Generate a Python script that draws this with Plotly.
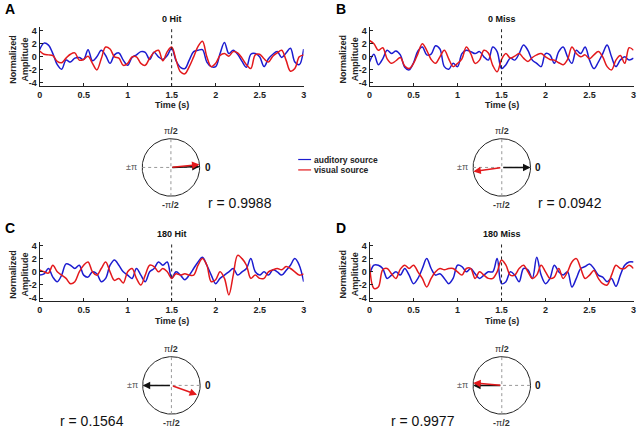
import numpy as np
import plotly.graph_objects as go

W, H = 640, 429

# ---------------- data ----------------
time_s = [round(i * 0.05, 2) for i in range(61)]

panel_titles = ["0 Hit", "0 Miss", "180 Hit", "180 Miss"]
panel_letters = ["A", "B", "C", "D"]
r_values = ["0.9988", "0.0942", "0.1564", "0.9977"]

auditory_A = [1.1, 2.1, 1.8, 0.5, -1.2, -1.9, -0.5, -0.8, -0.2, -0.1, -0.4, 1.1, -0.6, 0.0, 1.0, 0.2,
              -1.0, 0.3, 0.6, -0.5, -1.3, -0.1, 0.3, 0.8, 0.7, -0.4, 0.7, 0.0, -0.4, 0.2, 1.3, -0.6,
              -1.6, -1.8, -0.5, 0.8, 1.0, 1.1, -0.8, -1.5, -1.5, 0.5, 2.2, 0.5, 1.0, 0.4, -0.7, -1.6,
              0.4, 0.5, 0.0, -1.5, -0.3, 0.4, 0.8, -0.1, 0.6, 1.3, -0.8, -1.2, 1.2]
visual_A = [0.9, 0.4, 0.3, 0.2, -0.7, -0.9, -0.2, 0.4, 0.6, -0.5, -0.4, 0.1, -1.0, -2.0, -0.3, 1.5,
            1.2, 0.0, -0.2, -1.3, -1.0, 0.0, 0.0, -1.0, -1.3, -0.2, 0.7, 1.0, -0.6, 0.8, 1.5, -0.5,
            -2.3, -2.6, -1.5, 0.0, 1.6, 2.4, 0.0, -1.5, -1.0, 0.2, 0.5, 0.1, 0.8, 0.6, -0.2, -1.2,
            -1.8, 0.3, 0.4, -0.3, -0.8, 0.1, 0.6, 1.0, -0.5, -2.2, -1.8, 0.0, 0.3]

auditory_B = [-0.8, 0.4, -1.2, -0.3, 1.0, 0.5, 0.9, 0.3, -1.6, -2.0, -0.9, 0.9, 1.5, 0.3, 0.4, 1.7,
              1.2, -1.5, -1.9, -1.0, -1.5, 0.5, 1.0, 0.8, 0.5, 0.8, 0.0, -0.5, 1.5, 0.8, -1.8, -1.2,
              -0.2, -0.5, 0.5, 1.8, 1.0, -0.5, -1.0, -1.5, 0.5, 0.3, -1.0, 0.8, 1.5, 0.0, -1.0, 1.0,
              0.5, 1.5, -0.5, -1.8, -0.8, 0.5, 1.8, 0.0, -1.5, -0.5, 0.0, -0.5, -0.2]
visual_B = [2.5, 2.0, 1.0, 1.4, -0.3, -1.0, -0.6, -0.1, -1.4, -1.8, -1.0, 0.5, 2.0, 1.0, -0.4, -1.0,
            0.0, 1.0, -0.3, -1.5, -1.0, -0.3, 1.5, 0.5, -1.0, -0.5, 1.0, 0.6, -1.3, -2.3, -0.4, 0.5,
            -0.2, 0.1, 0.5, -0.2, -0.7, -0.1, 0.3, 0.5, 0.0, -0.4, -0.5, -0.9, -1.2, -0.4, 1.5, 0.5,
            0.0, 0.3, -0.3, 0.3, 0.8, 0.0, -1.5, -2.0, -0.5, 0.2, -1.0, 1.4, 1.0]

auditory_C = [-0.5, -0.3, 0.5, -0.8, -1.5, -0.5, 1.2, 1.0, 0.5, 1.0, -0.5, -0.8, 0.0, -0.3, -1.5, -1.0,
              1.0, 1.8, 1.0, 0.0, -0.5, -1.0, 0.5, -0.5, -1.5, 0.0, 0.5, 1.5, 1.0, 1.5, -1.0, 0.0,
              -0.5, -1.2, -0.5, 0.5, 1.5, 2.2, 1.0, -0.5, -1.8, -1.0, -0.5, 0.0, 0.5, -0.5, 0.0, 0.5,
              2.0, 0.0, -0.5, 0.0, -0.5, 0.3, 0.0, -0.5, 0.2, 1.0, 2.0, 1.0, -1.5]
visual_C = [0.3, 0.0, -0.2, 1.0, 0.0, -0.5, -1.0, -1.8, -1.5, 0.0, 1.0, 1.5, 0.0, -0.5, 0.5, 1.5,
            0.0, -1.3, -1.0, -1.7, 0.0, 0.5, -1.0, -2.0, -0.5, 1.0, 0.8, 0.0, 0.5, 0.0, -1.0, -0.3,
            -0.5, -0.3, -0.5, -0.5, 1.0, 2.0, 1.0, -1.5, -1.2, 0.0, -1.0, -3.5, -0.5, 2.5, 2.0, 1.0,
            -1.0, -0.5, -1.0, -1.0, 0.0, 0.3, 0.5, 0.3, 0.8, 0.5, 0.0, -0.5, -0.3]

auditory_D = [-0.5, 1.0, 1.0, 0.5, -1.0, -0.5, 0.0, -0.5, 0.5, -0.5, -1.8, -1.0, 0.5, 2.0, 0.5, -0.5,
              -0.3, -1.0, -1.8, -1.0, 1.0, 0.8, 0.0, 0.5, -0.3, -1.0, -0.5, 0.0, 0.0, 2.0, -1.8, -1.5,
              0.0, -0.5, -1.5, 0.5, 0.3, -1.0, 2.2, -0.5, -1.8, -1.0, 1.0, 0.0, -0.5, 0.0, -2.3, -1.0,
              0.5, 0.8, 1.2, 0.5, -0.5, -0.8, -1.5, -1.0, -2.2, -0.5, 1.0, 1.5, 1.5]
visual_D = [1.2, -2.5, -2.3, 0.3, 0.5, -0.3, -1.0, 0.4, 1.0, 0.5, 1.0, 0.0, -1.0, -2.3, -1.0, 0.0,
            0.5, 0.3, 0.5, 0.5, 0.0, -0.5, 0.5, 0.5, -1.0, 0.0, -0.5, -1.0, -1.0, 0.0, 1.8, 1.0,
            -0.5, -0.5, 0.5, 1.0, 0.0, -1.0, -0.5, 1.0, 0.0, -1.0, -0.8, 0.5, -1.0, 0.0, 1.5, 2.0,
            0.5, -1.0, -0.5, 0.2, -1.0, -1.8, -2.0, -0.5, 1.0, 0.5, 0.5, 1.0, 0.5]

auditory_series = [auditory_A, auditory_B, auditory_C, auditory_D]
visual_series = [visual_A, visual_B, visual_C, visual_D]

# phase angles (degrees) of mean vectors
auditory_phase = [2, 0, 180, 180]
visual_phase = [6, 188, -20, 175]
visual_length = [1.0, 1.0, 0.95, 1.0]

x_ticks = [0, 0.5, 1, 1.5, 2, 2.5, 3]
x_ticklabels = ["0", "0.5", "1", "1.5", "2", "2.5", "3"]
y_ticks = [-4, -2, 0, 2, 4]
y_ticklabels = ["-4", "-2", "0", "2", "4"]

BLUE = "#1c1cd0"
RED = "#e3191c"
FONT = "Liberation Sans"


def px(x):
    return x / W


def py(y):
    return 1 - y / H


fig = go.Figure()

# panel geometry (pixels)
panels = [
    dict(x0=37, x1=303.5, top=25.7, bot=85, title_y=17, time_y=104, letter=(7, 7),
         cx=169.5, cy=167, rx=239, ry=203),
    dict(x0=370, x1=636.5, top=25.7, bot=85, title_y=17, time_y=104, letter=(341, 7),
         cx=503.5, cy=167, rx=572, ry=203),
    dict(x0=37, x1=303.5, top=242.4, bot=302.3, title_y=234, time_y=321.5, letter=(7, 228),
         cx=170, cy=387, rx=90, ry=423),
    dict(x0=370, x1=636.5, top=242.4, bot=302.3, title_y=234, time_y=321.5, letter=(341, 228),
         cx=503.5, cy=387, rx=424, ry=423),
]

R = 29.0   # circle radius in px
HB = 42.0  # half box of the polar axes in px

annotations = []
shapes = []
axis_layout = {}

tick_font = dict(family=FONT, size=9, color="#222", weight="bold")

for i, p in enumerate(panels):
    k = i + 1
    xa = "x" if k == 1 else f"x{k}"
    ya = "y" if k == 1 else f"y{k}"
    xk = "xaxis" if k == 1 else f"xaxis{k}"
    yk = "yaxis" if k == 1 else f"yaxis{k}"

    fig.add_trace(go.Scatter(x=time_s, y=auditory_series[i], mode="lines", line=dict(color=BLUE, width=1.5, shape="spline", smoothing=1.0),
                             xaxis=xa, yaxis=ya, showlegend=False, name="auditory source"))
    fig.add_trace(go.Scatter(x=time_s, y=visual_series[i], mode="lines", line=dict(color=RED, width=1.5, shape="spline", smoothing=1.0),
                             xaxis=xa, yaxis=ya, showlegend=False, name="visual source"))

    axis_layout[xk] = dict(domain=[px(p["x0"]), px(p["x1"])], range=[0, 3], anchor=ya,
                           tickvals=x_ticks, ticktext=x_ticklabels, showline=True, linecolor="#222",
                           linewidth=1, ticks="inside", ticklen=3, tickcolor="#222", showgrid=False,
                           zeroline=False, tickfont=tick_font, fixedrange=True)
    axis_layout[yk] = dict(domain=[py(p["bot"]), py(p["top"])], range=[-4.5, 4.5], anchor=xa,
                           tickvals=y_ticks, ticktext=y_ticklabels, showline=True, linecolor="#222",
                           linewidth=1, ticks="inside", ticklen=3, tickcolor="#222", showgrid=False,
                           zeroline=False, tickfont=tick_font, fixedrange=True)

    # dotted line at stimulus time 1.5 s
    shapes.append(dict(type="line", xref=xa, yref=f"{ya} domain", x0=1.5, x1=1.5, y0=0, y1=1,
                       line=dict(color="#222", width=1, dash="dot")))

    # titles / labels
    annotations.append(dict(text=f"<b>{panel_titles[i]}</b>", xref=xa, yref="paper", x=1.5, y=py(p["title_y"]),
                            showarrow=False, font=dict(family=FONT, size=9, color="#111"), xanchor="center", yanchor="middle"))
    annotations.append(dict(text="<b>Time (s)</b>", xref=xa, yref="paper", x=1.5, y=py(p["time_y"]),
                            showarrow=False, font=dict(family=FONT, size=9, color="#222"), xanchor="center", yanchor="middle"))
    annotations.append(dict(text="<b>Normalized<br>Amplitude</b>", xref="paper", yref="paper",
                            x=px(p["x0"] - 21), y=py((p["top"] + p["bot"]) / 2 + 2), textangle=-90,
                            showarrow=False, font=dict(family=FONT, size=9, color="#222"),
                            xanchor="center", yanchor="middle"))
    annotations.append(dict(text=f"<b>{panel_letters[i]}</b>", xref="paper", yref="paper",
                            x=px(p["letter"][0]), y=py(p["letter"][1]), showarrow=False,
                            font=dict(family=FONT, size=14, color="#000"), xanchor="center", yanchor="middle"))

    # ---- polar (unit circle) axes ----
    kp = k + 4
    xpa, ypa = f"x{kp}", f"y{kp}"
    rng = HB / R
    axis_layout[f"xaxis{kp}"] = dict(domain=[px(p["cx"] - HB), px(p["cx"] + HB)], range=[-rng, rng],
                                     visible=False, anchor=ypa, fixedrange=True)
    axis_layout[f"yaxis{kp}"] = dict(domain=[py(p["cy"] + HB), py(p["cy"] - HB)], range=[-rng, rng],
                                     visible=False, anchor=xpa, fixedrange=True)
    th = np.linspace(0, 2 * np.pi, 181)
    fig.add_trace(go.Scatter(x=np.cos(th), y=np.sin(th), mode="lines", line=dict(color="#222", width=1),
                             xaxis=xpa, yaxis=ypa, showlegend=False, hoverinfo="skip"))
    shapes.append(dict(type="line", xref=xpa, yref=ypa, x0=-1, x1=1, y0=0, y1=0,
                       line=dict(color="#999", width=1, dash="dot")))
    shapes.append(dict(type="line", xref=xpa, yref=ypa, x0=0, x1=0, y0=-1, y1=1,
                       line=dict(color="#999", width=1, dash="dot")))
    # arrows: auditory (black) then visual (red)
    for ang, ln, col in [(auditory_phase[i], 1.0, "#111"), (visual_phase[i], visual_length[i], RED)]:
        a = np.deg2rad(ang)
        annotations.append(dict(x=ln * np.cos(a), y=ln * np.sin(a), ax=0, ay=0, xref=xpa, yref=ypa,
                                axref=xpa, ayref=ypa, showarrow=True, arrowhead=2, arrowsize=1,
                                arrowwidth=1.5, arrowcolor=col, text=""))
    lab_font = dict(family=FONT, size=9, color="#333")
    annotations.append(dict(text="π<b>/2</b>", xref="paper", yref="paper", x=px(p["cx"]), y=py(p["cy"] - 37),
                            showarrow=False, font=lab_font, xanchor="center", yanchor="middle"))
    annotations.append(dict(text="<b>-</b>π<b>/2</b>", xref="paper", yref="paper", x=px(p["cx"]), y=py(p["cy"] + 38),
                            showarrow=False, font=lab_font, xanchor="center", yanchor="middle"))
    annotations.append(dict(text="±π", xref="paper", yref="paper", x=px(p["cx"] - R - 3), y=py(p["cy"]),
                            showarrow=False, font=dict(family=FONT, size=9, color="#555"), xanchor="right", yanchor="middle"))
    annotations.append(dict(text="<b>0</b>", xref="paper", yref="paper", x=px(p["cx"] + R + 3), y=py(p["cy"]),
                            showarrow=False, font=dict(family=FONT, size=10, color="#111"), xanchor="left", yanchor="middle"))
    annotations.append(dict(text=f"r = {r_values[i]}", xref="paper", yref="paper", x=px(p["rx"]), y=py(p["ry"]),
                            showarrow=False, font=dict(family=FONT, size=14, color="#111"), xanchor="center", yanchor="middle"))

# manual legend
legend_items = [("auditory source", BLUE, 159), ("visual source", RED, 169.5)]
for name, col, ly in legend_items:
    shapes.append(dict(type="line", xref="paper", yref="paper", x0=px(298), x1=px(311), y0=py(ly), y1=py(ly),
                       line=dict(color=col, width=1.2)))
    annotations.append(dict(text=f"<b>{name}</b>", xref="paper", yref="paper", x=px(312), y=py(ly),
                            showarrow=False, font=dict(family=FONT, size=8.5, color="#222"),
                            xanchor="left", yanchor="middle"))

fig.update_layout(width=W, height=H, margin=dict(l=0, r=0, t=0, b=0), paper_bgcolor="white",
                  plot_bgcolor="rgba(0,0,0,0)", showlegend=False, annotations=annotations, shapes=shapes,
                  font=dict(family=FONT), **axis_layout)

fig.write_html("out.html", config={"displayModeBar": False},
               post_script="document.body.style.margin='0';document.body.style.overflow='hidden';")
